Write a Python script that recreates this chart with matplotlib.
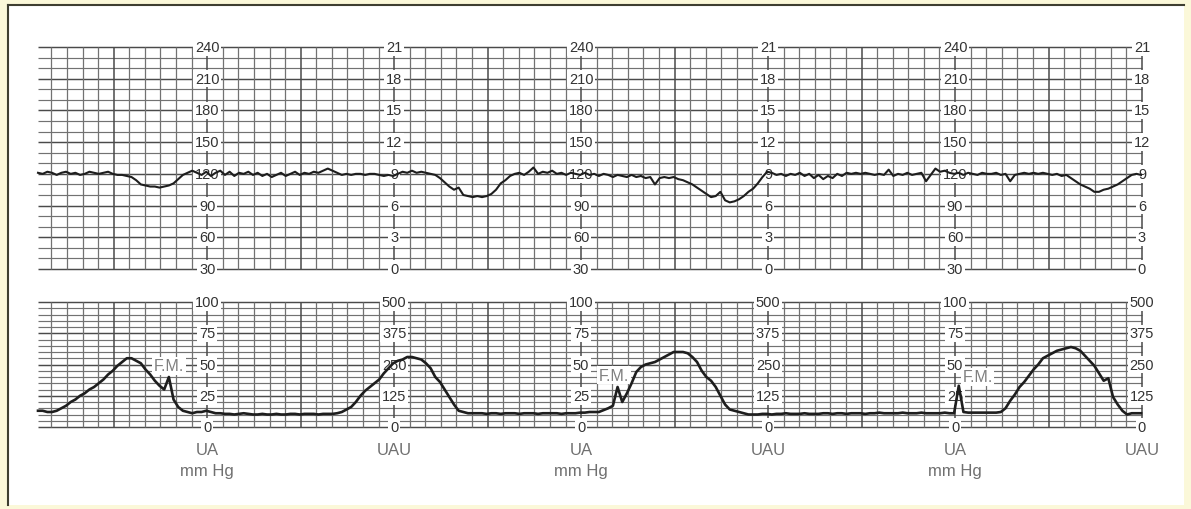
import matplotlib
matplotlib.use('agg')
import matplotlib.pyplot as plt
import numpy as np
from matplotlib.patches import Rectangle
from matplotlib.lines import Line2D

plt.rcParams['font.family'] = ['Liberation Sans', 'DejaVu Sans']

# one sample every 0.05 min (3 s) of tracing
step = 0.05

# fetal heart rate, bpm
fhr = [121, 120, 122, 121, 119, 121, 122, 120, 121, 119, 120, 122, 121, 120, 121, 122, 120, 119, 119, 118,
       117, 114, 110, 109, 108, 108, 107, 108, 109, 111, 115, 119, 121, 123,
       121, 119, 122, 118, 121, 123, 119, 122, 118, 121, 120, 122, 119, 121, 118, 120, 117, 119, 121, 118,
       120, 122, 119, 121, 120, 122, 121, 123, 125, 123, 121, 119, 120, 119, 120, 120, 119, 120, 120, 119,
       118, 119,
       118, 120, 122, 121, 123, 121, 122, 121, 120,
       119, 116, 112, 108, 105, 107, 100, 99, 98, 99, 98, 99, 101, 105, 111, 114, 118, 120,
       121, 119, 122, 126, 120, 122, 121, 123, 120, 121, 119, 121, 120, 119, 121, 119, 120, 118, 120, 119,
       117, 119, 118, 117, 119, 117, 118, 116, 117, 110, 116, 117, 116, 117, 115,
       114, 112, 110, 107, 104, 101, 98, 99, 103, 95, 93, 94, 96, 99, 103, 106, 111, 117, 122, 121,
       119, 120, 118, 120, 119, 121, 118, 120, 116, 119, 115, 118, 116, 120, 118, 121, 120, 121, 120, 121,
       120, 119, 120, 119, 124, 118, 120, 119, 121, 119, 120, 121, 113, 119, 125, 122, 123, 121, 120, 121,
       119, 121, 120, 119, 121, 120, 120, 121, 119, 120, 113, 119, 120, 121, 120, 121, 120, 121, 120, 119,
       120, 118, 119,
       116, 113, 110, 108, 106, 103, 103, 105, 106, 108, 110, 113, 116, 119, 120, 119]

# uterine activity, mm Hg
ua = [13, 13, 12, 12, 13, 15, 17, 20, 22, 25, 27, 30, 32, 35, 38, 42, 45, 49, 52, 55,
      55, 53, 51, 46, 42, 37, 33, 30, 40, 22, 16, 13, 12, 11, 12, 12, 13, 12,
      11, 11, 10.5, 10.5, 10, 10.5, 11, 10.5, 10, 10, 10.5, 10, 10, 10.5, 10, 10, 10.5, 10.5, 10, 10.5,
      10.5, 10.5, 10, 10.5, 10.5, 10.5,
      11, 12, 14, 16, 20, 25, 29, 32, 35, 38, 43, 47, 51, 53, 54, 56, 56, 55, 54, 51,
      47, 40, 36, 30, 24, 18, 13, 12, 11,
      11, 11, 11, 10.5, 11, 11, 10.5, 11, 11, 11, 10.5, 11, 11, 11, 10.5, 11, 11, 11, 11, 10.5,
      11, 11, 11, 11.5, 11.5, 12, 12, 12,
      13.5, 15, 17, 32, 20, 27, 35, 44, 48, 50, 51, 52, 54, 56, 58, 60, 60, 60, 59, 56,
      52, 45, 40, 37, 32, 25, 18, 14, 13, 12, 11, 10,
      10, 10, 10.5, 10.5, 10, 10.5, 10.5, 11, 10.5, 10.5, 10.5, 11, 10.5, 10.5, 10.5, 11, 11, 10.5, 11, 11,
      10.5, 11, 11, 11, 10.5, 11, 11, 11.5, 11, 11, 11, 11, 11.5, 11, 11, 11, 11.5, 11, 11, 11,
      11, 11.5, 11, 11,
      33,
      12, 11.5, 11.5, 11.5, 11.5, 11.5, 11.5, 11.5,
      12, 15, 21, 26, 32, 36, 41, 46, 50, 55, 57, 59, 61, 62, 63, 64, 63, 61, 57, 53,
      49, 43, 37, 39, 24, 18, 13, 10, 11, 11, 11]

hr_levels = [240, 210, 180, 150, 120, 90, 60, 30]
kpa_labels = [21, 18, 15, 12, 9, 6, 3, 0]
ua_levels = [100, 75, 50, 25, 0]
uau_labels = [500, 375, 250, 125, 0]
fm_marks = [(1.40, 49), (6.16, 41.5), (10.05, 40)]

col_first = 1.81
col_gap = 2.0
n_cols = 6
xmax = 11.81

W, H = 1191, 510
fig = plt.figure(figsize=(W / 100, H / 100), dpi=100)
fig.patch.set_facecolor('#fbf8d9')
fig.add_artist(Rectangle((8 / W, 1 - 506 / H), 1176 / W, 500 / H, transform=fig.transFigure,
                         facecolor='white', edgecolor='none', zorder=-10))
fig.add_artist(Line2D([8 / W, 8 / W], [1 - 506 / H, 1 - 6 / H], color='#3e3e30', lw=1.5, zorder=-5))
fig.add_artist(Line2D([8 / W, 1184 / W], [1 - 6 / H, 1 - 6 / H], color='#3e3e30', lw=1.5, zorder=-5))

ax_hr = fig.add_axes([38 / W, 1 - 270 / H, 1104 / W, 222 / H])
ax_ua = fig.add_axes([38 / W, 1 - 428 / H, 1104 / W, 125 / H])
for ax in (ax_hr, ax_ua):
    ax.patch.set_visible(False)

thin_c, thick_c = '#727272', '#4a4a4a'


def draw_grid(ax, y0, y1, ystep, ymajor):
    ax.set_xlim(0, xmax)
    ax.set_ylim(y0, y1)
    ax.axis('off')
    ys = np.arange(y0, y1 + ystep / 2, ystep)
    minor = [y for y in ys if (y - y0) % ymajor]
    major = [y for y in ys if (y - y0) % ymajor == 0]
    ax.hlines(minor, 0, xmax, color=thin_c, lw=0.85, zorder=1, clip_on=False)
    ax.hlines(major, 0, xmax, color=thick_c, lw=1.05, zorder=1, clip_on=False)
    ks = range(-10, 61)
    xs_minor = [col_first + k / 6 for k in ks if k % 6]
    xs_major = [col_first + k / 6 for k in ks if k % 6 == 0]
    ax.vlines(xs_minor, y0, y1, color=thin_c, lw=0.9, zorder=1, clip_on=False)
    ax.vlines(xs_major, y0, y1, color=thick_c, lw=1.1, zorder=1, clip_on=False)


draw_grid(ax_hr, 30, 240, 10, 30)
draw_grid(ax_ua, 0, 100, 5, 25)

box = dict(boxstyle='square,pad=0.12', fc='white', ec='none')
for c in range(n_cols):
    x = col_first + c * col_gap
    top_labels = hr_levels if c % 2 == 0 else kpa_labels
    for v, lab in zip(hr_levels, top_labels):
        ax_hr.text(x, v, str(lab), ha='center', va='center', fontsize=10.5, color='#333333',
                   bbox=box, zorder=3)
    bot_labels = ua_levels if c % 2 == 0 else uau_labels
    for v, lab in zip(ua_levels, bot_labels):
        ax_ua.text(x, v, str(lab), ha='center', va='center', fontsize=10.5, color='#333333',
                   bbox=box, zorder=3)
    trans = ax_ua.get_xaxis_transform()
    if c % 2 == 0:
        ax_ua.text(x, -0.18, 'UA', transform=trans, ha='center', va='center', fontsize=12, color='#707070')
        ax_ua.text(x, -0.35, 'mm Hg', transform=trans, ha='center', va='center', fontsize=12, color='#707070')
    else:
        ax_ua.text(x, -0.18, 'UAU', transform=trans, ha='center', va='center', fontsize=12, color='#707070')

for fx, fy in fm_marks:
    ax_ua.text(fx, fy, 'F.M.', ha='center', va='center', fontsize=11.5, color='#808080',
               bbox=dict(boxstyle='square,pad=0.1', fc='white', ec='none'), zorder=3)

t_hr = np.arange(len(fhr)) * step
t_ua = np.arange(len(ua)) * step
ax_hr.plot(t_hr, fhr, color='#1e1e1e', lw=1.5, zorder=4, clip_on=False)
ax_ua.plot(t_ua, ua, color='#1e1e1e', lw=1.9, zorder=4, clip_on=False)

plt.savefig('out.png', dpi=100, facecolor=fig.get_facecolor())
